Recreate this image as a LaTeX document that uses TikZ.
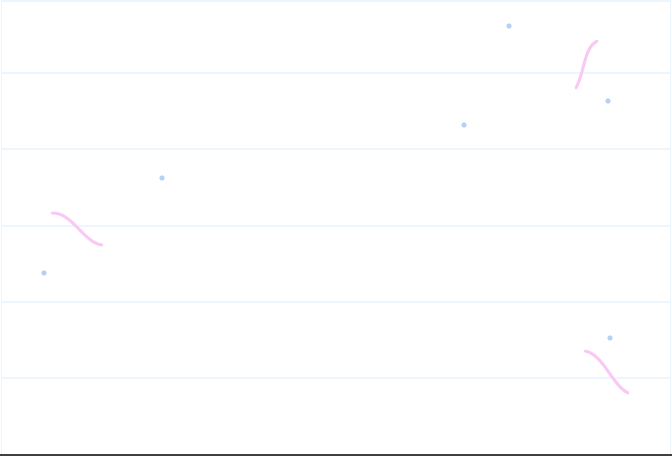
\documentclass[tikz,border=0pt]{standalone}
\begin{document}
\begin{tikzpicture}[x=0.75pt,y=-0.75pt,
  gridline/.style={draw=gridc,line width=1.2pt},
  dotmark/.style={circle,fill=dotc,inner sep=0pt,minimum size=4pt},
  curve/.style={draw=curvec,line width=2.2pt,line cap=round}]
\definecolor{gridc}{HTML}{EEF6FD}
\definecolor{dotc}{HTML}{B8D0F8}
\definecolor{curvec}{HTML}{FAC8F5}
\useasboundingbox (0,0) rectangle (672,456);
\fill[white] (0,0) rectangle (672,456);
% border
\draw[gridline] (1.5,1) -- (670.5,1);
\draw[gridline] (1.5,1) -- (1.5,454);
\draw[gridline] (670.5,1) -- (670.5,454);
% grid lines
\foreach \yy in {73,149,226,302,378} \draw[gridline] (1.5,\yy) -- (670.5,\yy);
% bottom axis
\draw[draw=black!75,line width=1.5pt] (0,454.5) -- (672,454.5);
% dots
\node[dotmark] (d1) at (509,26) {};
\node[dotmark] (d2) at (608,101) {};
\node[dotmark] (d3) at (464,125) {};
\node[dotmark] (d4) at (162,178) {};
\node[dotmark] (d5) at (44,273) {};
\node[dotmark] (d6) at (610,338) {};
% curves
\draw[curve] (52,213) .. controls (72,212) and (84,243) .. (102,245);
\draw[curve] (576,88) .. controls (585,70) and (584,48) .. (597,41);
\draw[curve] (585,351) .. controls (603,354) and (612,385) .. (628,393);
\end{tikzpicture}
\end{document}
